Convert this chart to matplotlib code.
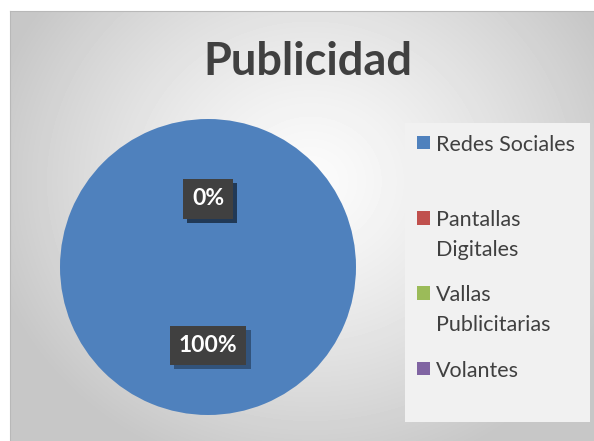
import numpy as np
import matplotlib
matplotlib.use('Agg')
import matplotlib.pyplot as plt
import matplotlib.patheffects as pe
from matplotlib.patches import Rectangle
from matplotlib.legend_handler import HandlerPatch

plt.rcParams['font.family'] = ['Lato', 'DejaVu Sans']

# datos
categorias = ['Redes Sociales', 'Pantallas Digitales', 'Vallas Publicitarias', 'Volantes']
etiquetas_leyenda = ['Redes Sociales\n ', 'Pantallas\nDigitales', 'Vallas\nPublicitarias', 'Volantes\n ']
porcentajes = [100, 0, 0, 0]
colores = ['#4f81bd', '#c0504d', '#9bbb59', '#8064a2']
titulo = 'Publicidad'

W, H = 594, 441
fig = plt.figure(figsize=(W / 100, H / 100), dpi=100)

# fondo con degradado radial
bg = fig.add_axes([10 / W, 0, (W - 10) / W, (H - 11) / H])
yy, xx = np.mgrid[0:430, 0:584]
r = np.hypot((xx - 300) / 330.0, (yy - 170) / 300.0)
r = np.clip(r, 0, 1)
g = 0.985 - 0.205 * r ** 1.3
bg.imshow(g, cmap='gray', vmin=0, vmax=1, extent=(0, 584, 430, 0), aspect='auto')
bg.set_xticks([])
bg.set_yticks([])
for s in ['right', 'bottom']:
    bg.spines[s].set_visible(False)
for s in ['left', 'top']:
    bg.spines[s].set_color('#b8b8b8')

fig.text(308 / W, 1 - 62 / H, titulo, ha='center', va='center',
         fontsize=32.5, fontweight='bold', color='#404040')

# pastel
ax = fig.add_axes([60 / W, (H - 415) / H, 296 / W, 296 / H])
wedges, textos, autotextos = ax.pie(porcentajes, colors=colores, startangle=90,
                                    counterclock=False, autopct='%1.0f%%',
                                    pctdistance=0.53)
ax.set_xlim(-1, 1)
ax.set_ylim(-1, 1)
for t, v in zip(autotextos, porcentajes):
    if v == 0:
        x, y = t.get_position()
        t.set_position((x * 0.46 / 0.53, y * 0.46 / 0.53))
    t.set_color('white')
    t.set_fontsize(16.5)
    t.set_fontweight('bold')
    t.set_bbox(dict(boxstyle='square,pad=0.4', fc='#404040', ec='none'))
    t.get_bbox_patch().set_path_effects(
        [pe.withSimplePatchShadow(offset=(3, -3), shadow_rgbFace='#1f3550', alpha=0.6),
         pe.Normal()])

TAM = 15.5
INTERLINEA = 1.59


def cuadro(lineas):
    def f(legend, orig_handle, xdescent, ydescent, width, height, fontsize):
        sube = 0.66 * INTERLINEA * 0.77 * fontsize * (lineas - 1)
        return Rectangle((-xdescent, -ydescent + sube), width, height)
    return f


mapa = {w: HandlerPatch(patch_func=cuadro(lab.count('\n') + 1))
        for w, lab in zip(wedges, etiquetas_leyenda)}
leg = fig.legend(wedges, etiquetas_leyenda, loc='upper left',
                 bbox_to_anchor=(405 / W, 1 - 123 / H - 0.1, 185 / W, 0.1),
                 mode='expand', borderaxespad=0, fontsize=TAM,
                 handlelength=0.6, handleheight=0.6, handletextpad=0.3,
                 labelspacing=1.2, borderpad=0.55, frameon=True, fancybox=False,
                 handler_map=mapa, labelcolor='#404040')
leg.get_frame().set_facecolor('#f1f1f1')
leg.get_frame().set_edgecolor('none')
leg.get_frame().set_alpha(1)
for t in leg.get_texts():
    t.set_linespacing(INTERLINEA)

fig.savefig('out.png', dpi=100)
